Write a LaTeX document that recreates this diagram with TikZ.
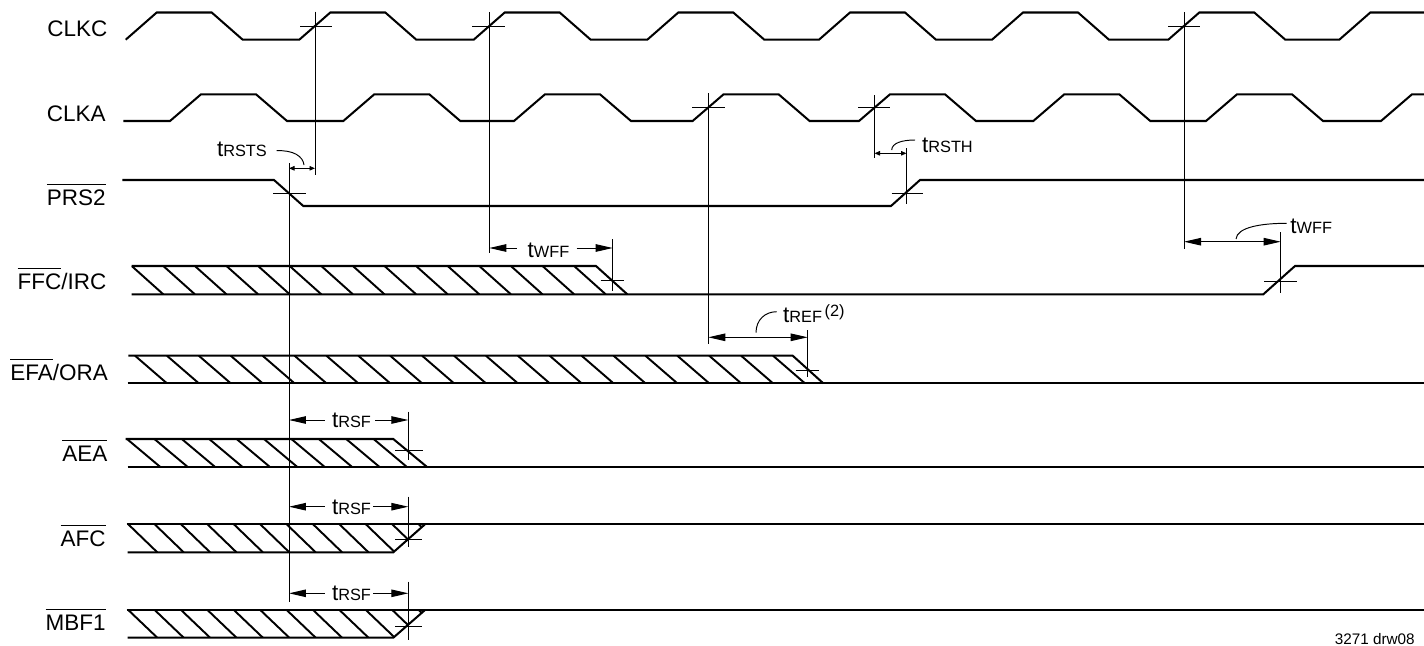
\documentclass[tikz,border=0pt]{standalone}
\usepackage{fontspec}
\setmainfont{Liberation Sans}
\usetikzlibrary{arrows.meta}
\newsavebox\ovlbox
\newcommand\ovl[1]{\sbox\ovlbox{#1}\rlap{\rule[11.6pt]{\wd\ovlbox}{0.6pt}}\usebox\ovlbox}
\newcommand\tlab[1]{{\fontsize{12.8}{14}\selectfont t}{\fontsize{9.3}{11}\selectfont #1}}
\tikzset{
  sig/.style={line width=1.15pt},
  hatchln/.style={line width=1.1pt},
  guide/.style={line width=0.55pt},
  lbl/.style={anchor=base east, inner sep=0pt, font=\fontsize{12.8}{14}\selectfont},
  tim/.style={anchor=base west, inner sep=0pt},
  larr/.style={guide,{Triangle[length=3.4mm,width=1.5mm]}-},
  rarr/.style={guide,-{Triangle[length=3.4mm,width=1.5mm]}},
  darr/.style={guide,{Triangle[length=3.4mm,width=1.5mm]}-{Triangle[length=3.4mm,width=1.5mm]}},
  sdarr/.style={guide,{Triangle[length=1.1mm,width=0.9mm]}-{Triangle[length=1.1mm,width=0.9mm]}},
}
\begin{document}
\begin{tikzpicture}[x=0.02cm,y=-0.02cm]
\useasboundingbox (0,0) rectangle (1424,646);
\begin{scope}
\clip (0,0) rectangle (1424,646);

% ---- labels
\node[lbl] (lclkc) at (107.7,36.7) {CLKC};
\node[lbl] (lclka) at (106,121) {CLKA};
\node[lbl] (lprs) at (106,205) {\ovl{PRS2}};
\node[lbl] (lffc) at (106.7,289.3) {\ovl{FFC}/IRC};
\node[lbl] (lefa) at (108.3,380) {\ovl{EFA}/ORA};
\node[lbl] (laea) at (107.7,461) {\ovl{AEA}};
\node[lbl] (lafc) at (106,546.7) {\ovl{AFC}};
\node[lbl] (lmbf) at (106,630.7) {\ovl{MBF1}};
\node[anchor=base east, inner sep=0pt, font=\fontsize{8.7}{10}\selectfont] (drw) at (1415,644.3) {3271 drw08};

% ---- clocks
\draw[sig] (125.7,39.7) \foreach \s in {125.7,299.3,473.7,647.3,819,992,1168.3,1339.3}{ -- (\s,39.7) -- (\s+31,12.5) -- (\s+86,12.5) -- (\s+117,39.7)};
\draw[sig] (123.3,121) \foreach \s in {170,343.3,514,692.6,859,1033.3,1206,1381}{ -- (\s,121) -- (\s+31,94.3) -- (\s+86,94.3) -- (\s+117,121)};

% ---- PRS2
\draw[sig] (122.3,180) -- (274,180) -- (303.3,206) -- (891,206) -- (920,180) -- (1424,180);

% ---- FFC/IRC
\begin{scope}
\clip (131.7,266) -- (596,266) -- (627.3,294.3) -- (131.7,294.3) -- cycle;
\foreach \k in {0,...,15} \draw[hatchln] ({131.7+31.6*\k},266) -- ++(31.6,28.3);
\end{scope}
\draw[sig] (131.7,266) -- (596,266) -- (627.3,294.3);
\draw[sig] (131.7,294.3) -- (1263.3,294.3) -- (1295,266) -- (1424,266);

% ---- EFA/ORA
\begin{scope}
\clip (128.3,355.7) -- (792.7,355.7) -- (823.3,383.3) -- (128.3,383.3) -- cycle;
\foreach \k in {0,...,21} \draw[hatchln] ({135+31.9*\k},355.7) -- ++(31.9,27.6);
\end{scope}
\draw[sig] (128.3,355.7) -- (792.7,355.7) -- (823.3,383.3);
\draw[sig] (127.7,383.3) -- (1424,383.3);

% ---- AEA
\begin{scope}
\clip (125.7,439) -- (393.3,439) -- (426.7,466.7) -- (125.7,466.7) -- cycle;
\foreach \k in {0,...,11} \draw[hatchln] ({127+27.4*\k},439) -- ++(33,27.7);
\end{scope}
\draw[sig] (125.7,439) -- (393.3,439) -- (426.7,466.7);
\draw[sig] (127.7,466.7) -- (1424,466.7);

% ---- AFC
\begin{scope}
\clip (126.7,524.3) -- (425,524.3) -- (393.3,552.3) -- (127.7,552.3) -- cycle;
\foreach \k in {0,...,11} \draw[hatchln] ({128.3+26.4*\k},524.3) -- ++(29,28);
\end{scope}
\draw[sig] (126.7,524.3) -- (1424,524.3);
\draw[sig] (127.7,552.3) -- (393.3,552.3) -- (425,524.3);

% ---- MBF1
\begin{scope}
\clip (126.7,610) -- (425,610) -- (393.3,637.7) -- (127.7,637.7) -- cycle;
\foreach \k in {0,...,11} \draw[hatchln] ({128.3+26.4*\k},610) -- ++(29,27.7);
\end{scope}
\draw[sig] (126.7,610) -- (1424,610);
\draw[sig] (127.7,637.7) -- (393.3,637.7) -- (425,610);

% ---- marker guides (crossings)
% CLKC
\draw[guide] (300,26.2) -- (332,26.2);   \draw[guide] (315,11.7) -- (315,175);
\draw[guide] (472.3,26.2) -- (505,26.2); \draw[guide] (489.3,12) -- (489.3,253);
\draw[guide] (1168.3,26.2) -- (1200,26.2); \draw[guide] (1184,12) -- (1184,249);
% CLKA
\draw[guide] (692,107.7) -- (725,107.7); \draw[guide] (708.3,93) -- (708.3,344);
\draw[guide] (858,107.7) -- (890,107.7); \draw[guide] (874.5,95) -- (874.5,158.3);
% PRS2
\draw[guide] (273.3,193) -- (306,193);   \draw[guide] (289,163) -- (289,601.7);
\draw[guide] (891.7,193) -- (923.3,193); \draw[guide] (906.5,148.3) -- (906.5,204);
% FFC
\draw[guide] (600.7,280) -- (624.3,280); \draw[guide] (612.7,239.3) -- (612.7,290.7);
\draw[guide] (1264.3,281) -- (1297.3,281); \draw[guide] (1280.7,232.3) -- (1280.7,293.3);
% EFA
\draw[guide] (795.7,370) -- (819.3,370); \draw[guide] (807.7,330) -- (807.7,376.7);
% AEA, AFC, MBF1
\draw[guide] (395,450) -- (423.3,450);   \draw[guide] (408.3,411.7) -- (408.3,460);
\draw[guide] (395,539) -- (422,539);     \draw[guide] (408.3,496.7) -- (408.3,546.7);
\draw[guide] (395,626.7) -- (422,626.7); \draw[guide] (408.3,581.7) -- (408.3,640);

% ---- timing annotations
% tRSTS
\draw[sdarr] (289,168.3) -- (315,168.3);
\draw[guide] (276.7,150.7) .. controls (293,150) and (303,156) .. (304,165);
\node[tim] (trsts) at (216.7,156) {\tlab{RSTS}};
% tRSTH
\draw[sdarr] (874.5,153.3) -- (906.5,153.3);
\draw[guide] (891.7,150) .. controls (892,143) and (902,140) .. (915,140);
\node[tim] (trsth) at (921.7,152.3) {\tlab{RSTH}};
% tWFF 1
\draw[larr] (489.3,248) -- (517.3,248);
\draw[rarr] (576.7,248) -- (612.7,248);
\node[tim] (twff1) at (527.3,257.3) {\tlab{WFF}};
% tWFF 2
\draw[darr] (1184,241.7) -- (1280.7,241.7);
\draw[guide] (1236,239) .. controls (1237,227) and (1262,223.3) .. (1286.7,223.3);
\node[tim] (twff2) at (1290,233.3) {\tlab{WFF}};
% tREF
\draw[darr] (708.3,337.3) -- (807.7,337.3);
\draw[guide] (756,332.7) .. controls (756,320) and (765,311.7) .. (776.7,311.7);
\node[tim] (tref) at (782.7,322.7) {\tlab{REF}\hspace{1.5pt}\raisebox{3.7pt}{\fontsize{9.3}{11}\selectfont (2)}};
% tRSF x3
\draw[larr] (289,420) -- (325,420);   \draw[rarr] (375,420) -- (408.3,420);
\node[tim] (trsf1) at (331.7,427.3) {\tlab{RSF}};
\draw[larr] (289,506.7) -- (325,506.7); \draw[rarr] (373.3,506.7) -- (408.3,506.7);
\node[tim] (trsf2) at (331.7,514.3) {\tlab{RSF}};
\draw[larr] (289,593.3) -- (325,593.3); \draw[rarr] (373.3,593.3) -- (408.3,593.3);
\node[tim] (trsf3) at (331.7,600) {\tlab{RSF}};
\end{scope}
\end{tikzpicture}
\end{document}
